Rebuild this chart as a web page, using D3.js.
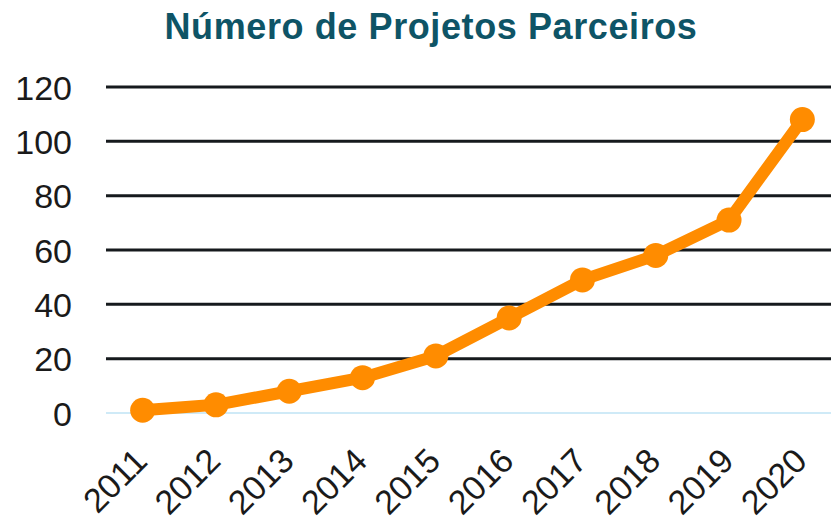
<!DOCTYPE html>
<html>
<head>
<meta charset="utf-8">
<script src="https://cdn.jsdelivr.net/npm/d3@7"></script>
<style>
  body { margin: 0; background: #fff; }
  svg { display: block; font-family: "Liberation Sans", Arial, sans-serif; }
</style>
</head>
<body>
<div class="mainView"></div>
<script>
let years = ["2011","2012","2013","2014","2015","2016","2017","2018","2019","2020"];
let projetos = [1, 3, 8, 13, 21, 35, 49, 58, 71, 108];
let yTicks = [0, 20, 40, 60, 80, 100, 120];
let titulo = "Número de Projetos Parceiros";

function getConfig(){
    let width = 831;
    let height = 522;
    let margin = { top: 87, bottom: 109, left: 106, right: -8 };
    let bodyWidth = width - margin.left - margin.right;
    let bodyHeight = height - margin.top - margin.bottom;
    let svg = d3.select(".mainView").append("svg")
        .attr("width", width)
        .attr("height", height);
    let container = svg.append("g")
        .attr("transform", "translate(" + [margin.left, margin.top] + ")");
    return { width, height, margin, bodyWidth, bodyHeight, svg, container };
}

function getScales(config){
    let { bodyWidth, bodyHeight } = config;
    let xScale = d3.scalePoint()
        .domain(years)
        .range([0, bodyWidth])
        .padding(0.5);
    let yScale = d3.scaleLinear()
        .domain([0, 120])
        .range([bodyHeight, 0]);
    return { xScale, yScale };
}

function drawAxes(scales, config){
    let { xScale, yScale } = scales;
    let { container, bodyWidth, bodyHeight } = config;

    // gridlines
    container.append("g")
        .selectAll("line")
        .data(yTicks)
        .enter()
        .append("line")
        .attr("x1", 0)
        .attr("x2", bodyWidth)
        .attr("y1", d => yScale(d))
        .attr("y2", d => yScale(d))
        .attr("stroke", d => d === 0 ? "#cfeaf7" : "#161a1d")
        .attr("stroke-width", d => d === 0 ? 2 : 3);

    let axisY = d3.axisLeft(yScale).tickValues(yTicks).tickSize(0).tickPadding(34);
    let gy = container.append("g").call(axisY);
    gy.select(".domain").remove();
    gy.selectAll("text")
        .style("font-size", "34px")
        .attr("fill", "#1a1a1a")
        .attr("dy", "0.36em");

    let axisX = d3.axisBottom(xScale).tickSize(0).tickPadding(0);
    let gx = container.append("g")
        .attr("transform", "translate(0," + bodyHeight + ")")
        .call(axisX);
    gx.select(".domain").remove();
    gx.selectAll("text")
        .style("font-size", "34px")
        .attr("fill", "#1a1a1a")
        .style("text-anchor", "end")
        .attr("dy", null)
        .attr("y", 0)
        .attr("transform", "translate(6,50) rotate(-45)");
}

function drawLine(scales, config){
    let { xScale, yScale } = scales;
    let { container } = config;
    let data = years.map((y, i) => ({ year: y, value: projetos[i] }));

    let line = d3.line()
        .x(d => xScale(d.year))
        .y(d => yScale(d.value));

    container.append("path")
        .datum(data)
        .attr("d", line)
        .attr("fill", "none")
        .attr("stroke", "#ff8c00")
        .attr("stroke-width", 12)
        .attr("stroke-linejoin", "round");

    container.selectAll("circle")
        .data(data)
        .enter()
        .append("circle")
        .attr("cx", d => xScale(d.year))
        .attr("cy", d => yScale(d.value))
        .attr("r", 12.5)
        .attr("fill", "#ff8c00");
}

function drawTitle(config){
    config.svg.append("text")
        .attr("x", 431)
        .attr("y", 39)
        .attr("text-anchor", "middle")
        .style("font-size", "36px")
        .style("font-weight", "bold")
        .style("letter-spacing", "0.6px")
        .attr("fill", "#0e5466")
        .text(titulo);
}

let config = getConfig();
let scales = getScales(config);
drawAxes(scales, config);
drawLine(scales, config);
drawTitle(config);
</script>
</body>
</html>
